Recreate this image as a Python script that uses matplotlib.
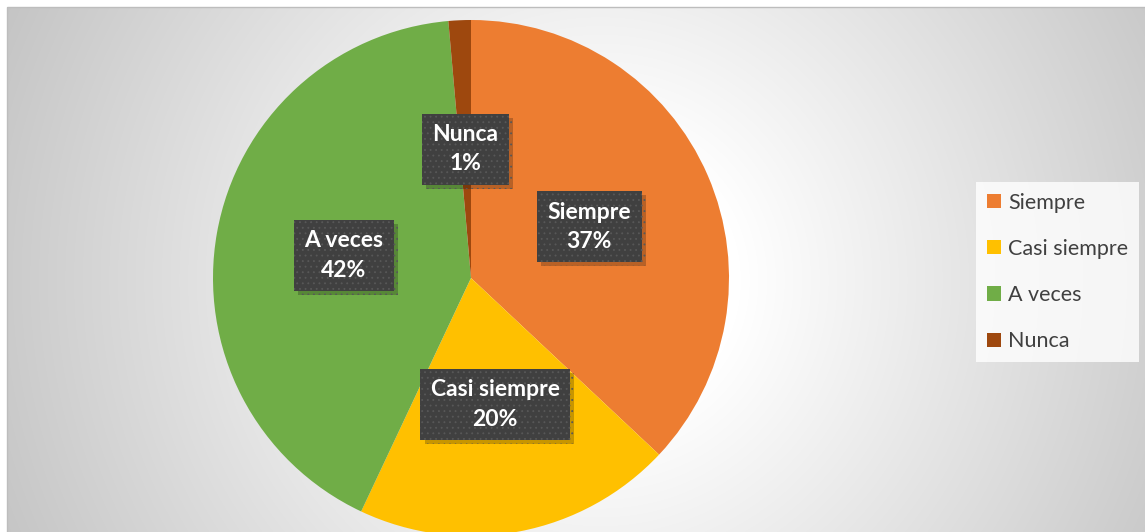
import numpy as np
import matplotlib
matplotlib.use("Agg")
import matplotlib.pyplot as plt
import matplotlib.patheffects as pe
from matplotlib.patches import Patch, Rectangle

categories = ["Siempre", "Casi siempre", "A veces", "Nunca"]
values = [37.0, 20.0, 41.6, 1.4]
colors = ["#ED7D31", "#FFC000", "#70AD47", "#9E480E"]

W, H = 1145, 532
fig = plt.figure(figsize=(W / 100, H / 100), dpi=100)

# background: radial grey gradient inside the chart area
bg = fig.add_axes([0, 0, 1, 1])
yy, xx = np.mgrid[0:H, 0:W]
d = np.hypot(xx - 600, yy - 280)
g = np.clip(271 - 0.114 * d, 0, 255) / 255.0
g[(xx < 7) | (yy < 7)] = 1.0
bg.imshow(np.dstack([g, g, g]), extent=[0, W, H, 0], interpolation="bilinear")
bg.add_patch(Rectangle((7, 7), W, H, fill=False, ec="#bdbdbd", lw=1))
bg.set_xlim(0, W)
bg.set_ylim(H, 0)
bg.axis("off")

# pie: centre (471, 278) px, radius 258 px
cx, cy, r = 471, 278, 258
ax = fig.add_axes([(cx - r) / W, (H - cy - r) / H, 2 * r / W, 2 * r / H])
wedges, texts, autotexts = ax.pie(
    values, colors=colors, startangle=90, counterclock=False,
    autopct="%.0f%%", pctdistance=0.5, radius=1,
    wedgeprops=dict(linewidth=0))
ax.set_xlim(-1, 1)
ax.set_ylim(-1, 1)

plt.rcParams["hatch.linewidth"] = 0.6
for cat, t in zip(categories, autotexts):
    t.set_text(cat + "\n" + t.get_text())
    t.set_color("white")
    t.set_fontsize(16.5)
    t.set_fontweight("bold")
    t.set_family("Lato")
    t.set_linespacing(1.5)
    t.set_ha("center")
    t.set_va("center")
    t.set_bbox(dict(boxstyle="square,pad=0.45", fc="#404040", ec="#585858",
                    lw=0, hatch="..."))
    t.get_bbox_patch().set_path_effects(
        [pe.SimplePatchShadow(offset=(3, -3), shadow_rgbFace="black", alpha=0.22),
         pe.Normal()])
    t.set_zorder(5)

handles = [Patch(fc=c, ec="none") for c in colors]
leg = fig.legend(handles, categories, loc="center left",
                 bbox_to_anchor=(976 / W, 1 - 272 / H),
                 frameon=True, fancybox=False, borderaxespad=0,
                 prop=dict(family="Lato", size=15.5),
                 handlelength=0.65, handleheight=0.65, handletextpad=0.35,
                 labelspacing=1.22, borderpad=0.5)
leg.get_frame().set_facecolor((1, 1, 1, 0.15))
leg.get_frame().set_edgecolor("none")
for txt in leg.get_texts():
    txt.set_color("#404040")

fig.savefig("out.png", dpi=100)
